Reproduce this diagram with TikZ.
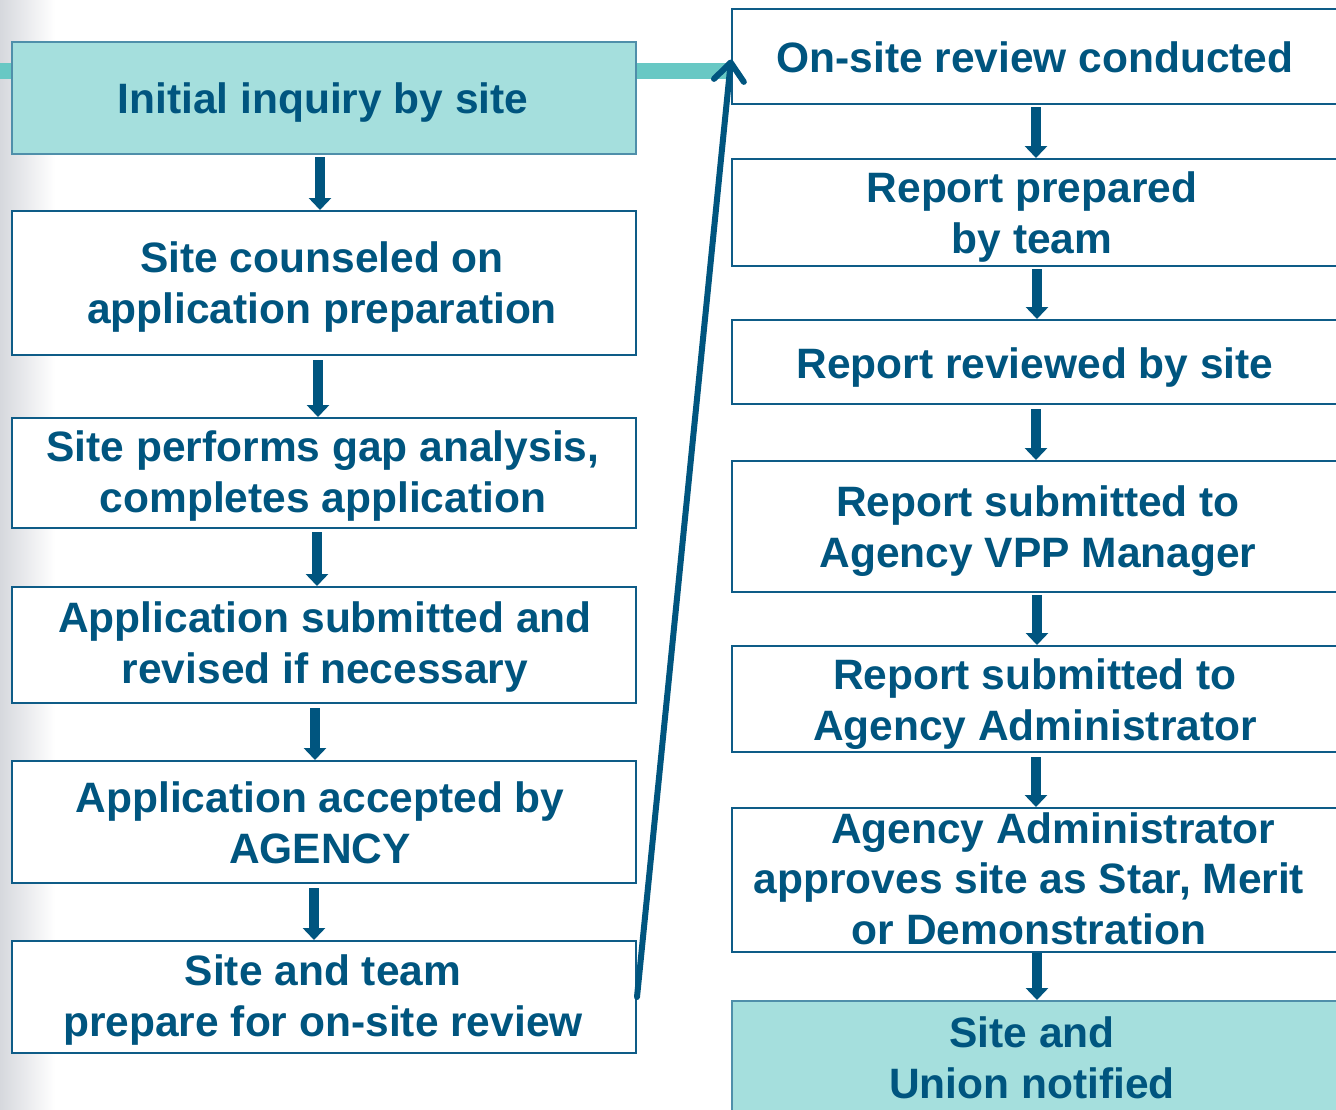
\documentclass[tikz,border=0pt]{standalone}
\usepackage{fontspec}
\setmainfont{Liberation Sans}
\usetikzlibrary{arrows.meta}
\definecolor{ink}{HTML}{00557F}
\definecolor{edge}{HTML}{0E5C87}
\definecolor{tealfill}{HTML}{A5DFDD}
\definecolor{tealedge}{HTML}{4F8FAA}
\definecolor{barteal}{HTML}{68C8C4}
\definecolor{sidegray}{HTML}{D6D8DD}
\begin{document}
\begin{tikzpicture}[x=1pt,y=-1pt,
  box/.style={draw=edge, line width=2pt, fill=white, inner sep=0pt, anchor=north west},
  tealbox/.style={box, draw=tealedge, fill=tealfill},
  lbl/.style={text=ink, font=\bfseries\fontsize{42.5}{50.5}\selectfont, align=center, anchor=base, inner sep=0pt},
  flow/.style={draw=ink, line width=10pt, -{Triangle[length=12pt,width=22pt]}},
  jump/.style={draw=ink, line width=6pt, line cap=round, -{Straight Barb[length=18pt,width=30pt,round]}},
]
\useasboundingbox (0,0) rectangle (1336,1109);
\clip (0,0) rectangle (1336,1109);

% page background with a soft grey edge on the left
\fill[white] (0,0) rectangle (1336,1109);
\shade[left color=sidegray, right color=white] (0,0) rectangle (55,1109);

% teal band running behind the first box
\fill[barteal] (0,63) rectangle (731,79);

% left column
\node[tealbox, minimum width=624pt, minimum height=112pt] (l1) at (11,41) {};
\node[box, minimum width=624pt, minimum height=144pt] (l2) at (11,210) {};
\node[box, minimum width=624pt, minimum height=110pt] (l3) at (11,417) {};
\node[box, minimum width=624pt, minimum height=116pt] (l4) at (11,586) {};
\node[box, minimum width=624pt, minimum height=122pt] (l5) at (11,760) {};
\node[box, minimum width=624pt, minimum height=112pt] (l6) at (11,940) {};

% right column (boxes run past the right edge)
\node[box, minimum width=700pt, minimum height=95pt] (r1) at (731,8) {};
\node[box, minimum width=700pt, minimum height=107pt] (r2) at (731,158) {};
\node[box, minimum width=700pt, minimum height=84pt] (r3) at (731,319) {};
\node[box, minimum width=700pt, minimum height=131pt] (r4) at (731,460) {};
\node[box, minimum width=700pt, minimum height=106pt] (r5) at (731,645) {};
\node[box, minimum width=700pt, minimum height=144pt] (r6) at (731,807) {};
\node[tealbox, minimum width=700pt, minimum height=140pt] (r7) at (731,1000) {};

% texts (positioned at the baseline of their last line)
\node[lbl] (t1) at (323,113) {Initial inquiry by site};
\node[lbl] (t2) at (322,323) {Site counseled on\\application preparation};
\node[lbl] (t3) at (323,512) {Site performs gap analysis,\\completes application};
\node[lbl] (t4) at (325,683) {Application submitted and\\revised if necessary};
\node[lbl] (t5) at (320,863) {Application accepted by\\AGENCY};
\node[lbl] (t6) at (323,1036) {Site and team\\prepare for on-site review};

\node[lbl] (u1) at (1035,72) {On-site review conducted};
\node[lbl] (u2) at (1032,253) {Report prepared\\by team};
\node[lbl] (u3) at (1035,378) {Report reviewed by site};
\node[lbl] (u4) at (1038,567) {Report submitted to\\Agency VPP Manager};
\node[lbl] (u5) at (1035,740) {Report submitted to\\Agency Administrator};
\node[lbl] (u6) at (1029,944) {\hspace*{48pt}Agency Administrator\\approves site as Star, Merit\\or Demonstration};
\node[lbl] (u7) at (1032,1098) {Site and\\Union notified};

% downward flow arrows, left column
\draw[flow] ([yshift=-2pt]320,0 |- l1.south) -- (320,0 |- l2.north);
\draw[flow] ([yshift=-4pt]318,0 |- l2.south) -- (318,0 |- l3.north);
\draw[flow] ([yshift=-3pt]317,0 |- l3.south) -- (317,0 |- l4.north);
\draw[flow] ([yshift=-4pt]315,0 |- l4.south) -- (315,0 |- l5.north);
\draw[flow] ([yshift=-4pt]314,0 |- l5.south) -- (314,0 |- l6.north);

% downward flow arrows, right column
\draw[flow] ([yshift=-2pt]1036,0 |- r1.south) -- (1036,0 |- r2.north);
\draw[flow] ([yshift=-2pt]1037,0 |- r2.south) -- (1037,0 |- r3.north);
\draw[flow] ([yshift=-4pt]1036,0 |- r3.south) -- (1036,0 |- r4.north);
\draw[flow] ([yshift=-2pt]1037,0 |- r4.south) -- (1037,0 |- r5.north);
\draw[flow] ([yshift=-4pt]1036,0 |- r5.south) -- (1036,0 |- r6.north);
\draw[flow] ([yshift=0pt]1037,0 |- r6.south) -- (1037,0 |- r7.north);

% jump from the bottom of the left column to the top of the right column
\draw[jump] (l6.east) -- ([yshift=-3pt]r1.west);
\end{tikzpicture}
\end{document}
